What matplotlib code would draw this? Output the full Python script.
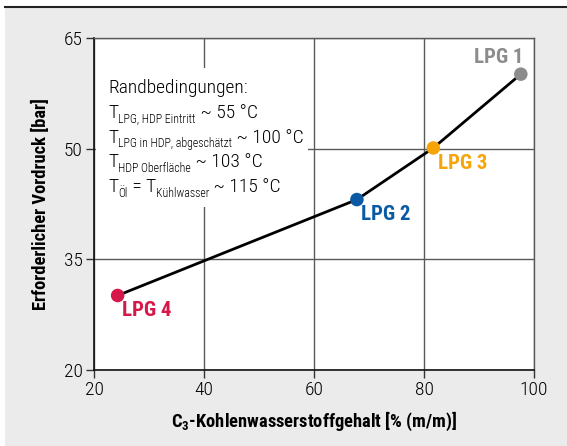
import matplotlib
matplotlib.use("Agg")
import matplotlib.pyplot as plt
from matplotlib.patches import Rectangle
from matplotlib.lines import Line2D
from matplotlib.transforms import IdentityTransform

plt.rcParams['font.family'] = ['Roboto Condensed', 'DejaVu Sans']
plt.rcParams['mathtext.fontset'] = 'custom'
plt.rcParams['mathtext.rm'] = 'Roboto Condensed'
plt.rcParams['mathtext.bf'] = 'Roboto Condensed:bold'

names = ["LPG 4", "LPG 2", "LPG 3", "LPG 1"]
c3_content = [24.3, 67.8, 81.7, 97.6]
pressure = [30.1, 43.1, 50.1, 60.1]
colors = ["#d5174a", "#0a5aa5", "#f5a50a", "#8c8c8c"]
label_offsets = [(3, -11), (3, -11), (3, -11), (2, 12)]
label_ha = ["left", "left", "left", "right"]

x_ticks = [20, 40, 60, 80, 100]
y_ticks = [20, 35, 50, 65]

# boundary-condition box: (text, kind) pieces, kind "n" = normal, "s" = subscript
box_lines = [
    [("Randbedingungen:", "n")],
    [("T", "n"), ("LPG, HDP Eintritt", "s"), (" ~ 55 °C", "n")],
    [("T", "n"), ("LPG in HDP, abgeschätzt", "s"), (" ~ 100 °C", "n")],
    [("T", "n"), ("HDP Oberfläche", "s"), (" ~ 103 °C", "n")],
    [("T", "n"), ("Öl", "s"), (" = T", "n"), ("Kühlwasser", "s"), (" ~ 115 °C", "n")],
]

fig = plt.figure(figsize=(5.67, 4.46), dpi=100)
fig.patch.set_facecolor("white")
fig.patches.append(Rectangle((5/567, 0), 1 - 5/567, (446 - 7)/446, transform=fig.transFigure,
                             facecolor="#ebebeb", edgecolor="none", zorder=-10))
fig.lines.append(Line2D([5/567, 1], [(446 - 7)/446] * 2, transform=fig.transFigure,
                        color="#222222", lw=1.5, zorder=-5))

ax = fig.add_axes([94/567, (446 - 370)/446, 440/567, 332/446])
ax.set_facecolor("white")
ax.set_xlim(20, 100)
ax.set_ylim(20, 65)
ax.set_xticks(x_ticks)
ax.set_yticks(y_ticks)
ax.grid(True, color="#5a5a5a", lw=1.0)
ax.set_axisbelow(True)
for s in ["top", "right"]:
    ax.spines[s].set_color("#5a5a5a")
    ax.spines[s].set_linewidth(1.0)
for s in ["left", "bottom"]:
    ax.spines[s].set_color("#111111")
    ax.spines[s].set_linewidth(1.2)
ax.tick_params(direction="out", length=6, width=1, color="#333333", labelsize=14, pad=2)
for lab in ax.get_xticklabels() + ax.get_yticklabels():
    lab.set_fontweight("light")

ax.plot(c3_content, pressure, color="black", lw=2, zorder=3)
for x, y, n, c, off, ha in zip(c3_content, pressure, names, colors, label_offsets, label_ha):
    ax.scatter([x], [y], s=95, color=c, zorder=4, edgecolors="none")
    ax.annotate(n, (x, y), xytext=off, textcoords="offset points", color=c,
                fontsize=15, fontweight="bold", ha=ha, va="center")

# white box behind the text (covers grid lines)
ax.add_patch(Rectangle((20.3, 42.1), 38.6, 18.8, facecolor="white", edgecolor="none", zorder=1.5))

renderer = fig.canvas.get_renderer()
x_start, y_start = ax.transData.transform((22.6, 57.58))
line_step = 24.9
for i, pieces in enumerate(box_lines):
    xp = x_start
    yp = y_start - i * line_step
    for s, kind in pieces:
        size = 14 if kind == "n" else 8.6
        dy = 0 if kind == "n" else -4.5
        t = ax.text(xp, yp + dy, s, transform=IdentityTransform(), fontsize=size,
                    fontweight="light", va="baseline", ha="left", zorder=2)
        xp += t.get_window_extent(renderer).width

ax.set_xlabel(r"C$_{\mathregular{3}}$-Kohlenwasserstoffgehalt [% (m/m)]", fontsize=13.3,
              fontweight="bold", labelpad=8)
ax.set_ylabel("Erforderlicher Vordruck [bar]", fontsize=13.3, fontweight="bold", labelpad=10)

fig.savefig("out.png", dpi=100)
